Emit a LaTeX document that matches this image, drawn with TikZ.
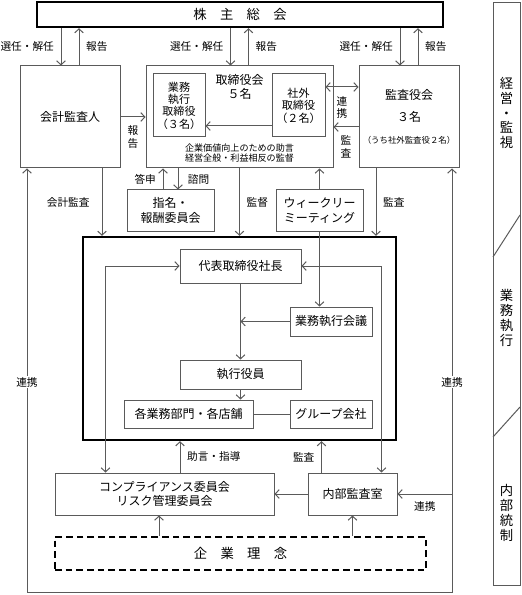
\documentclass[tikz,border=0pt]{standalone}
\usepackage{fontspec}
\setmainfont{Noto Sans CJK JP}
\usetikzlibrary{calc,arrows.meta}
\definecolor{lineclr}{RGB}{90,90,90}
\tikzset{every picture/.style={line width=0.75pt}}
\tikzset{
  box/.style={draw=lineclr, fill=white, align=center, inner sep=1pt, font=\fontsize{9}{11}\selectfont},
  lbl/.style={inner sep=5pt, align=center, font=\fontsize{8}{9.5}\selectfont},
  sidetxt/.style={inner sep=0pt, align=center, font=\fontsize{10}{11.2}\selectfont},
  conn/.style={draw=lineclr},
  >={Straight Barb[length=3pt,width=6.5pt]},
}
\begin{document}
\begin{tikzpicture}[x=0.75pt,y=0.75pt,yscale=-1,xscale=1]
\useasboundingbox (0,0) rectangle (521,595);

%Shape: Rectangle (kabunushi sokai)
\node[box, draw=black, line width=1.8pt, minimum width=304.5pt, minimum height=18.75pt, font=\fontsize{10}{12}\selectfont] (kabu) at (240,14.5) {株　主　総　会};

%Shape: Rectangle (kaikei kansanin)
\node[box, minimum width=75pt, minimum height=76.5pt] (kaikei) at (70,117) {会計監査人};

%Shape: Rectangle (torishimariyakukai)
\node[box, minimum width=140.25pt, minimum height=76.5pt] (torishimari) at (239.5,117) {};
\node[inner sep=0pt, align=center, font=\fontsize{9}{10}\selectfont] (torititle) at (239.5,87) {取締役会\\５名};
\node[inner sep=0pt, align=center, font=\fontsize{6.8}{7.6}\selectfont] (torinote) at (239.5,153) {企業価値向上のための助言\\経営全般・利益相反の監督};
\node[box, minimum width=39pt, minimum height=47.25pt, font=\fontsize{8.3}{9.3}\selectfont] (gyomu) at (179,105.5) {業務\\執行\\取締役\\（３名）};
\node[box, minimum width=39.75pt, minimum height=47.25pt, font=\fontsize{8.3}{9.3}\selectfont] (shagai) at (298.5,105.5) {社外\\取締役\\（２名）};

%Shape: Rectangle (kansayakukai)
\node[box, minimum width=75pt, minimum height=76.5pt] (kansayaku) at (409,117) {監査役会\\[5pt]３名\\[5.5pt]{\fontsize{6.3}{7.5}\selectfont （うち社外監査役２名）}};

%Shape: Rectangle (committees)
\node[box, minimum width=65.25pt, minimum height=30.75pt] (shimei) at (170.5,210.5) {指名・\\報酬委員会};
\node[box, minimum width=65.25pt, minimum height=30.75pt] (weekly) at (319.5,210.5) {ウィークリー\\ミーティング};

%Shape: Rectangle (execution area)
\node[draw=black, line width=1.8pt, minimum width=234.75pt, minimum height=152.25pt, inner sep=0pt] (area) at (239.5,338.5) {};
\node[box, minimum width=90.75pt, minimum height=25.5pt] (daihyo) at (240.5,266) {代表取締役社長};
\node[box, minimum width=61.5pt, minimum height=21.75pt] (kaigi) at (331,321.5) {業務執行会議};
\node[box, minimum width=90.75pt, minimum height=21.75pt] (shikko) at (240.5,374.5) {執行役員};
\node[box, minimum width=96.75pt, minimum height=21pt] (bumon) at (188.5,414) {各業務部門・各店舗};
\node[box, minimum width=61.5pt, minimum height=21pt] (group) at (331,414) {グループ会社};

%Shape: Rectangle (internal control)
\node[box, minimum width=164.25pt, minimum height=31.5pt] (comp) at (164.5,494) {コンプライアンス委員会\\リスク管理委員会};
\node[box, minimum width=66.75pt, minimum height=31.5pt] (naibu) at (352.5,494) {内部監査室};
\node[box, draw=black, line width=1.5pt, dash pattern=on 5pt off 3pt, minimum width=278.25pt, minimum height=24.75pt, font=\fontsize{10}{12}\selectfont] (rinen) at (240.5,553.5) {企　業　理　念};

%Shape: Rectangle (side bar)
\node[draw=lineclr, minimum width=20.25pt, minimum height=436.5pt, inner sep=0pt] (side) at (506.5,294) {};
\draw[lineclr] (493,257) -- (520,215);
\draw[lineclr] (493,437) -- (520,407);
\node[sidetxt] (keieiT) at (506.5,113) {経\\営\\・\\監\\視};
\node[sidetxt] (shikkoT) at (506.5,318) {業\\務\\執\\行};
\node[sidetxt] (naibuT) at (506.5,513) {内\\部\\統\\制};

%Straight Lines (kabunushi sokai)
\coordinate (dnA) at ($(kaikei.north)+(-9,0)$);
\coordinate (upA) at ($(kaikei.north)+(9,0)$);
\coordinate (dnB) at ($(torishimari.north)+(-9,0)$);
\coordinate (upB) at ($(torishimari.north)+(9,0)$);
\coordinate (dnC) at ($(kansayaku.north)+(-9,0)$);
\coordinate (upC) at ($(kansayaku.north)+(9,0)$);
\draw[conn,->] (dnA |- kabu.south) -- (dnA) node[lbl,midway,anchor=east]{選任・解任};
\draw[conn,->] (upA) -- (upA |- kabu.south) node[lbl,midway,anchor=west]{報告};
\draw[conn,->] (dnB |- kabu.south) -- (dnB) node[lbl,midway,anchor=east]{選任・解任};
\draw[conn,->] (upB) -- (upB |- kabu.south) node[lbl,midway,anchor=west]{報告};
\draw[conn,->] (dnC |- kabu.south) -- (dnC) node[lbl,midway,anchor=east]{選任・解任};
\draw[conn,->] (upC) -- (upC |- kabu.south) node[lbl,midway,anchor=west]{報告};

%Straight Lines (board level)
\draw[conn,->] (kaikei.east) -- (kaikei.east -| torishimari.west) node[lbl,midway,anchor=north,inner sep=6pt]{報\\告};
\coordinate (renkeiA) at ($(shagai.east)+(0,-18.5)$);
\draw[conn,<->] (renkeiA) -- (renkeiA -| kansayaku.west) node[lbl,midway,anchor=north,inner sep=6.5pt]{連\\携};
\coordinate (kansaA) at ($(kansayaku.west)+(0,10)$);
\draw[conn,->] (kansaA) -- (kansaA -| torishimari.east) node[lbl,midway,anchor=north,inner sep=6pt]{監\\査};
\coordinate (jogenA) at ($(shagai.west)+(0,20.5)$);
\draw[conn,->] (jogenA) -- (jogenA -| gyomu.east);

%Straight Lines (committees)
\coordinate (toshin) at ($(shimei.north)+(-7.5,0)$);
\coordinate (shimon) at ($(shimei.north)+(7.5,0)$);
\draw[conn,->] (toshin) -- (toshin |- torishimari.south) node[lbl,midway,anchor=east]{答申};
\draw[conn,->] (shimon |- torishimari.south) -- (shimon) node[lbl,midway,anchor=west,inner sep=7pt]{諮問};
\draw[conn,->] (torishimari.south) -- (torishimari.south |- area.north) node[lbl,midway,anchor=west]{監督};
\draw[conn,->] (weekly.north) -- (weekly.north |- torishimari.south);
\draw[conn,->] (weekly.south) -- (weekly.south |- kaigi.north);
\coordinate (kansaB) at ($(kansayaku.south)+(-33,0)$);
\draw[conn,->] (kansaB) -- (kansaB |- area.north) node[lbl,midway,anchor=west]{監査};
\coordinate (kaikeiB) at ($(kaikei.south)+(32,0)$);
\draw[conn,->] (kaikeiB) -- (kaikeiB |- area.north) node[lbl,midway,anchor=east,inner sep=9pt]{会計監査};

%Straight Lines (outer loop)
\coordinate (loopBL) at (27,592);
\coordinate (loopBR) at (452,592);
\draw[conn,<->] (kaikei.south -| loopBL) -- (loopBL) -- (loopBR) -- (kansayaku.south -| loopBR);
\node[lbl, fill=white, inner sep=1pt] (renkeiL) at (27,382) {連携};
\node[lbl, fill=white, inner sep=1pt] (renkeiR) at (452,382) {連携};
\draw[conn,->] (naibu.east -| loopBR) -- (naibu.east) node[lbl,midway,anchor=north,inner sep=5pt]{連携};

%Straight Lines (execution area)
\coordinate (leftV) at ($(comp.north west)+(51,0)$);
\draw[conn,<->] (leftV) |- (daihyo.west);
\coordinate (rightV) at ($(naibu.north east)+(-16,0)$);
\draw[conn,<->] (rightV) |- (daihyo.east);
\draw[conn,->] (daihyo.south) -- (shikko.north);
\draw[conn,->] (kaigi.west) -- (kaigi.west -| daihyo.south);
\draw[conn,->] (shikko.south) -- (shikko.south |- bumon.north);
\draw[conn] (bumon.east) -- (group.west);

%Straight Lines (internal control)
\coordinate (jogenB) at ($(comp.north)+(15.5,0)$);
\draw[conn,->] (jogenB) -- (jogenB |- area.south) node[lbl,midway,anchor=west]{助言・指導};
\coordinate (kansaC) at ($(naibu.north west)+(14,0)$);
\draw[conn,->] (kansaC) -- (kansaC |- area.south) node[lbl,midway,anchor=east]{監査};
\draw[conn,->] (naibu.west) -- (comp.east);
\coordinate (rinenA) at ($(comp.south)+(-5.5,0)$);
\draw[conn,->] (rinenA |- rinen.north) -- (rinenA);
\draw[conn,->] (rinen.north -| naibu.south) -- (naibu.south);

\end{tikzpicture}
\end{document}
